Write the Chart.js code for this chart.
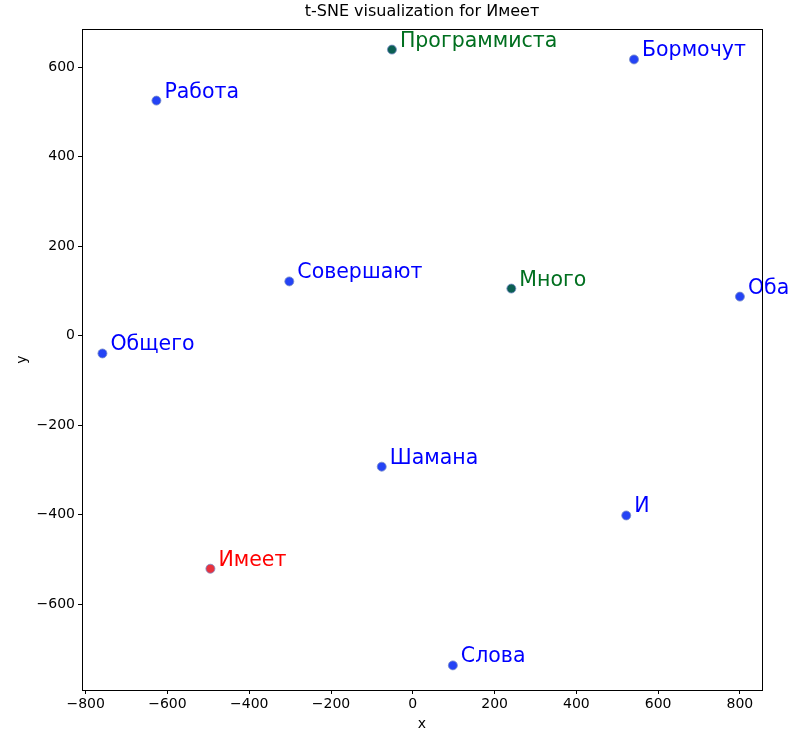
<!DOCTYPE html>
<html>
<head>
<meta charset="utf-8">
<script src="https://cdn.jsdelivr.net/npm/chart.js@4.4.0/dist/chart.umd.min.js"></script>
<style>
  body { margin: 0; background: #fff; }
  #wrap { width: 793px; height: 730px; }
</style>
</head>
<body>
<div id="wrap"><canvas id="tsne-chart" width="793" height="730"></canvas></div>
<script>
const chartTitle = 't-SNE visualization for Имеет';
const words = ['Программиста', 'Бормочут', 'Работа', 'Совершают', 'Много', 'Оба', 'Общего', 'Шамана', 'И', 'Имеет', 'Слова'];
const xValues = [-51, 541, -627, -302, 241, 800, -759, -76, 522, -495, 98];
const yValues = [639, 617, 525, 121, 105, 87, -40, -293, -402, -521, -737];
const groups = ['green', 'blue', 'blue', 'blue', 'green', 'blue', 'blue', 'blue', 'blue', 'red', 'blue'];
const xTicks = [-800, -600, -400, -200, 0, 200, 400, 600, 800];
const yTicks = [-600, -400, -200, 0, 200, 400, 600];

const dotColors = { blue: '#2443f5', green: '#0b5f52', red: '#e8323e' };
const textColors = { blue: '#0000ff', green: '#006f1f', red: '#ff0000' };
const fontFamily = '"DejaVu Sans", sans-serif';

const fmt = v => (v < 0 ? '\u2212' + Math.abs(v) : String(v));

// word labels, frame and the title centred over the axes
const labelPlugin = {
  id: 'wordLabels',
  afterDatasetsDraw(chart) {
    const ctx = chart.ctx;
    const xs = chart.scales.x, ys = chart.scales.y;
    const area = chart.chartArea;
    ctx.save();
    ctx.font = '20.5px ' + fontFamily;
    ctx.textBaseline = 'alphabetic';
    ctx.textAlign = 'left';
    words.forEach((w, i) => {
      const px = xs.getPixelForValue(xValues[i]);
      const py = ys.getPixelForValue(yValues[i]);
      ctx.fillStyle = textColors[groups[i]];
      ctx.fillText(w, px + 8, py - 3);
    });
    ctx.strokeStyle = '#000';
    ctx.lineWidth = 1;
    ctx.strokeRect(Math.round(area.left) + 0.5, Math.round(area.top) + 0.5,
      Math.round(area.right - area.left), Math.round(area.bottom - area.top));

    ctx.fillStyle = '#000';
    ctx.font = '16px ' + fontFamily;
    ctx.textAlign = 'center';
    ctx.textBaseline = 'middle';
    ctx.fillText(chartTitle, (area.left + area.right) / 2, 12);
    ctx.restore();
  }
};

const ctx = document.getElementById('tsne-chart').getContext('2d');
new Chart(ctx, {
  type: 'scatter',
  data: {
    datasets: [{
      data: xValues.map((x, i) => ({ x: x, y: yValues[i] })),
      pointRadius: 4.5,
      pointBackgroundColor: groups.map(g => dotColors[g]),
      pointBorderColor: 'rgba(120,140,200,0.8)',
      pointBorderWidth: 1
    }]
  },
  options: {
    responsive: false,
    animation: false,
    layout: { padding: { left: 0, right: 31, top: 29, bottom: 0 } },
    plugins: {
      legend: { display: false },
      tooltip: { enabled: false },
      title: { display: false }
    },
    scales: {
      x: {
        type: 'linear',
        min: -809,
        max: 854,
        afterBuildTicks: s => { s.ticks = xTicks.map(v => ({ value: v })); },
        afterFit: s => { s.height = 40; },
        ticks: {
          color: '#000',
          font: { family: fontFamily, size: 14 },
          padding: 2,
          maxRotation: 0,
          callback: v => fmt(v)
        },
        grid: { drawOnChartArea: false, drawTicks: true, tickLength: 4, color: '#000' },
        border: { display: true, color: '#000' },
        title: {
          display: true,
          text: 'x',
          color: '#000',
          font: { family: fontFamily, size: 14, lineHeight: 0.85 },
          padding: { top: 0, bottom: 0 }
        }
      },
      y: {
        type: 'linear',
        min: -792,
        max: 685,
        afterBuildTicks: s => { s.ticks = yTicks.map(v => ({ value: v })); },
        afterFit: s => { s.width = 82; },
        ticks: {
          color: '#000',
          font: { family: fontFamily, size: 14 },
          padding: 3,
          callback: v => fmt(v)
        },
        grid: { drawOnChartArea: false, drawTicks: true, tickLength: 4, color: '#000' },
        border: { display: true, color: '#000' },
        title: {
          display: true,
          text: 'y',
          color: '#000',
          font: { family: fontFamily, size: 14 },
          padding: { top: 14, bottom: 0 }
        }
      }
    }
  },
  plugins: [labelPlugin]
});
</script>
</body>
</html>
